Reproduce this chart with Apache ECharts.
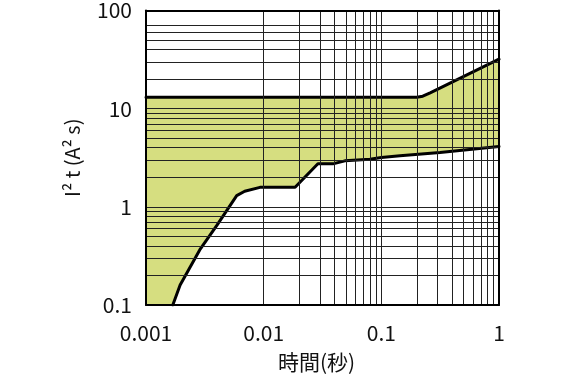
<!DOCTYPE html>
<html>
<head>
<meta charset="utf-8">
<script src="https://cdn.jsdelivr.net/npm/echarts@6/dist/echarts.min.js"></script>
<style>html,body{margin:0;padding:0;background:#fff;}#c{width:570px;height:380px;}</style>
</head>
<body>
<div id="c"></div>
<script>
// ---- data ----
var upperX = [0.001, 0.2, 0.225, 0.26, 1];
var upperY = [13.1, 13.1, 13.4, 14.5, 32];
var lowerX = [0.00169, 0.00195, 0.0029, 0.004, 0.0059, 0.0069, 0.0093, 0.0185, 0.0289, 0.0388, 0.049, 0.08, 0.1, 0.144, 0.315, 1];
var lowerY = [0.1, 0.16, 0.374, 0.647, 1.30, 1.44, 1.58, 1.58, 2.75, 2.74, 2.94, 3.06, 3.18, 3.31, 3.57, 4.12];
var xTickLabels = ['0.001', '0.01', '0.1', '1'];
var yTickLabels = ['0.1', '1', '10', '100'];
var xDecades = [0.001, 0.01, 0.1];
var yDecades = [0.1, 1, 10];
var minorMultipliers = [1, 2, 3, 4, 5, 6, 7, 8, 9];
var yTopDecadeMultipliers = [1, 2, 3, 4, 5, 6, 7]; // 80, 90 lines absent in reference

function pairs(xs, ys) { return xs.map(function (x, i) { return [x, ys[i]]; }); }
var upper = pairs(upperX, upperY);
var lower = pairs(lowerX, lowerY);

var gridLines = [];
xDecades.forEach(function (d) {
  minorMultipliers.forEach(function (m) {
    if (!(m === 1 && d === 0.001)) gridLines.push({ xAxis: +(d * m).toPrecision(6) });
  });
});
yDecades.forEach(function (d, i) {
  var mults = (i === yDecades.length - 1) ? yTopDecadeMultipliers : minorMultipliers;
  mults.forEach(function (m) {
    if (!(m === 1 && d === 0.1)) gridLines.push({ yAxis: +(d * m).toPrecision(6) });
  });
});

function labelFor(arr, v) {
  var idx = Math.round(Math.log10(v)) - Math.round(Math.log10(parseFloat(arr[0])));
  return arr[idx] !== undefined ? arr[idx] : '';
}

var FONT = '"Noto Sans CJK JP", "Noto Sans", sans-serif';
var frameLine = { show: true, onZero: false, lineStyle: { color: '#000', width: 2 } };
var chart = echarts.init(document.getElementById('c'), null, { renderer: 'canvas' });
chart.setOption({
  animation: false,
  backgroundColor: '#fff',
  grid: { left: 146, right: 71, top: 9, bottom: 75 },
  xAxis: [{
    type: 'log', logBase: 10, min: 0.001, max: 1, z: 10,
    axisLine: frameLine, axisTick: { show: false }, splitLine: { show: false },
    axisLabel: { margin: 18, fontSize: 21, color: '#111', fontFamily: FONT,
      formatter: function (v) { return labelFor(xTickLabels, v); } },
    name: '時間(秒)', nameLocation: 'middle', nameGap: 47,
    nameTextStyle: { fontSize: 21, color: '#111', fontFamily: FONT, padding: [0, 12, 0, 0] }
  }, {
    type: 'log', logBase: 10, min: 0.001, max: 1, z: 10, position: 'top',
    axisLine: frameLine, axisTick: { show: false }, splitLine: { show: false }, axisLabel: { show: false }
  }],
  yAxis: [{
    type: 'log', logBase: 10, min: 0.1, max: 100, z: 10,
    axisLine: frameLine, axisTick: { show: false }, splitLine: { show: false },
    axisLabel: { margin: 14, fontSize: 21, color: '#111', fontFamily: FONT,
      formatter: function (v) { return labelFor(yTickLabels, v); } },
    name: 'I² t (A² s)', nameLocation: 'middle', nameGap: 64, nameRotate: 90,
    nameTextStyle: { fontSize: 20, color: '#111', fontFamily: FONT }
  }, {
    type: 'log', logBase: 10, min: 0.1, max: 100, z: 10, position: 'right',
    axisLine: frameLine, axisTick: { show: false }, splitLine: { show: false }, axisLabel: { show: false }
  }],
  series: [
    { name: 'upperFill', type: 'line', data: upper, symbol: 'none', z: 1, silent: true,
      lineStyle: { width: 0, opacity: 0 }, areaStyle: { color: '#d6de80', opacity: 1, origin: 'start' } },
    { name: 'lowerFill', type: 'line', data: lower, symbol: 'none', z: 2, silent: true,
      lineStyle: { width: 0, opacity: 0 }, areaStyle: { color: '#ffffff', opacity: 1, origin: 'start' } },
    { name: 'grid', type: 'line', data: [], z: 3, silent: true,
      markLine: { silent: true, symbol: ['none', 'none'], label: { show: false }, animation: false,
        lineStyle: { color: '#222', width: 1, type: 'solid' }, data: gridLines } },
    { name: 'upper', type: 'line', data: upper, symbol: 'none', z: 4, silent: true,
      lineStyle: { color: '#000', width: 3, join: 'round', cap: 'round' } },
    { name: 'lower', type: 'line', data: lower, symbol: 'none', z: 4, silent: true,
      lineStyle: { color: '#000', width: 3, join: 'round', cap: 'round' } }
  ]
});
</script>
</body>
</html>
